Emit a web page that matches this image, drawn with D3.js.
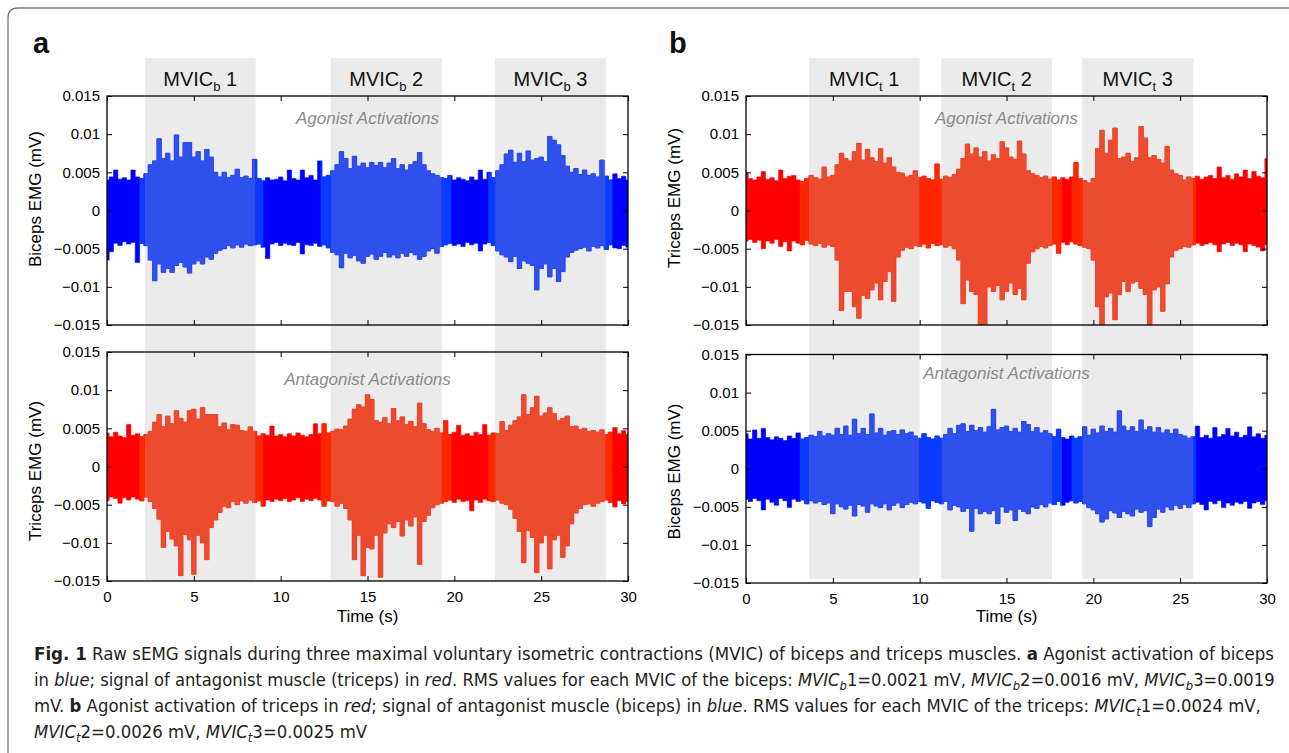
<!DOCTYPE html>
<html>
<head>
<meta charset="utf-8">
<script src="https://cdn.jsdelivr.net/npm/d3@7"></script>
<style>
  html, body { margin: 0; padding: 0; background: #fff; }
  svg { display: block; font-family: "Liberation Sans", Arial, Helvetica, sans-serif; }
</style>
</head>
<body>
<svg id="fig" width="1289" height="753"></svg>
<script>
// ---- data -------------------------------------------------------------
// envelope of each raw sEMG trace, read every 0.25 s, values in µV (1e-3 mV)
const sampleStep = 0.25;

const aBicepsUp = [4.0,4.4,5.3,4.1,4.3,4.0,5.3,4.4,4.2,4.8,6.0,6.5,9.4,6.8,7.5,6.5,9.9,7.0,8.9,8.9,7.0,7.7,6.5,8.0,7.0,5.0,4.4,5.0,4.3,4.6,5.4,4.3,4.5,4.2,6.7,4.2,3.9,4.3,4.0,4.1,4.4,3.9,5.3,4.2,4.0,5.3,4.3,4.6,4.0,6.5,4.4,4.6,5.2,6.0,7.7,6.8,5.5,7.1,5.8,6.2,5.6,6.3,5.9,6.3,5.6,6.2,6.8,5.5,6.0,5.3,6.0,6.4,7.6,6.0,5.2,4.8,4.6,4.3,4.2,4.6,4.0,4.3,4.1,3.9,4.4,4.0,5.3,4.1,5.0,4.3,5.2,6.0,7.4,7.9,6.3,7.5,6.4,7.8,6.6,6.8,7.0,6.4,9.7,9.2,8.6,7.2,5.8,5.0,5.5,4.7,5.3,4.6,4.8,4.4,6.6,4.5,4.0,4.8,4.2,4.5,4.0];
const aBicepsLo = [-6.5,-5.4,-4.3,-4.6,-4.1,-4.4,-4.2,-6.8,-4.3,-4.6,-6.5,-9.2,-7.0,-8.1,-7.6,-8.1,-7.2,-6.8,-7.4,-8.2,-7.0,-6.6,-7.0,-6.1,-6.4,-5.6,-5.2,-5.0,-4.6,-4.9,-4.5,-4.8,-4.4,-4.6,-4.5,-4.4,-4.8,-6.3,-4.4,-4.2,-4.6,-4.3,-4.5,-4.6,-4.2,-5.7,-4.5,-4.6,-4.3,-4.7,-4.5,-4.9,-5.5,-5.8,-7.5,-5.6,-6.2,-5.9,-6.6,-6.9,-6.0,-5.7,-6.4,-6.0,-5.5,-6.1,-5.8,-6.2,-5.6,-6.0,-5.5,-5.8,-6.4,-6.0,-5.3,-5.0,-5.6,-4.7,-4.5,-4.3,-4.6,-4.4,-4.7,-4.2,-4.5,-4.3,-5.3,-4.4,-4.2,-4.6,-5.3,-5.8,-6.1,-6.7,-6.0,-7.6,-6.6,-6.9,-7.2,-10.4,-7.6,-7.0,-8.7,-7.6,-9.3,-8.0,-6.1,-5.5,-5.2,-5.0,-4.8,-5.3,-4.7,-4.9,-4.6,-5.1,-4.5,-4.9,-5.0,-4.6,-4.8];

const aTricepsUp = [4.4,3.9,4.5,4.0,3.8,5.5,4.1,4.3,3.9,4.2,4.6,5.8,6.8,5.2,6.6,5.6,7.3,6.3,5.8,7.3,7.5,6.2,7.7,6.8,6.8,6.8,5.2,5.7,4.8,5.5,5.4,4.7,4.6,5.2,4.6,4.0,4.3,4.1,5.3,4.0,4.2,3.9,4.3,4.0,4.4,4.1,3.9,4.2,5.6,4.3,5.6,4.4,4.6,4.9,4.8,5.3,6.2,7.5,8.1,7.8,9.4,8.8,6.0,5.8,6.4,5.6,7.6,6.0,6.5,5.5,5.9,5.2,8.3,5.6,4.8,4.6,5.0,4.4,6.0,4.2,4.5,5.4,4.1,4.3,4.0,4.5,4.2,5.5,4.1,4.4,4.3,5.9,4.7,5.4,6.0,6.5,9.4,6.8,7.7,9.2,6.6,7.0,7.7,6.9,6.0,6.3,6.6,5.2,5.3,4.8,5.0,4.6,4.7,4.5,4.8,4.2,4.5,5.1,4.3,4.7,4.2];
const aTricepsLo = [-4.5,-4.0,-4.2,-4.8,-4.1,-4.4,-4.0,-4.3,-4.5,-4.0,-4.6,-5.5,-6.9,-10.6,-8.5,-9.5,-10.4,-14.3,-8.9,-9.6,-14.1,-9.0,-10.0,-12.2,-8.0,-7.0,-6.0,-5.2,-5.4,-4.6,-5.0,-4.5,-4.8,-4.4,-4.7,-4.5,-5.2,-4.4,-4.6,-4.3,-4.5,-4.2,-4.6,-4.4,-4.1,-4.6,-4.3,-4.5,-4.2,-4.4,-5.2,-4.5,-4.6,-5.2,-4.8,-5.5,-7.0,-12.2,-9.0,-14.3,-10.6,-10.8,-9.0,-14.5,-8.7,-7.5,-8.0,-7.2,-9.1,-7.0,-7.8,-6.6,-12.8,-7.2,-6.4,-5.4,-5.0,-4.8,-4.6,-4.4,-4.7,-4.3,-4.6,-4.5,-5.8,-4.4,-4.7,-4.3,-4.5,-4.6,-4.4,-4.8,-5.0,-5.6,-6.8,-8.5,-12.6,-8.4,-9.3,-13.9,-10.0,-9.0,-13.4,-9.6,-9.0,-11.9,-10.4,-7.5,-6.1,-5.5,-5.0,-4.9,-5.2,-4.8,-4.6,-4.4,-4.7,-5.3,-4.5,-4.9,-4.6];

const bTricepsUp = [4.9,4.2,4.0,4.4,5.1,4.1,4.3,3.9,5.3,4.2,4.5,4.6,4.0,3.8,4.2,4.6,4.3,4.1,5.7,4.4,4.6,6.0,7.5,6.8,6.5,7.7,8.8,6.6,8.0,6.9,6.4,8.1,6.2,6.9,5.7,5.0,4.9,4.4,4.6,5.2,4.3,4.5,4.2,4.0,6.1,4.1,4.5,4.3,4.7,5.4,6.8,8.7,7.4,8.2,7.0,7.7,6.5,7.3,6.8,9.0,8.2,7.0,6.7,9.1,7.4,5.2,4.8,4.6,4.3,4.5,4.1,4.4,4.0,4.3,4.1,4.4,6.3,4.2,3.9,3.6,4.2,8.1,10.5,7.5,9.2,10.8,6.8,7.0,7.5,6.4,6.9,11.0,9.5,6.9,7.2,6.7,6.2,8.4,5.3,4.8,4.6,4.0,4.4,4.2,4.5,4.1,4.4,4.6,4.2,5.7,4.3,4.6,4.1,4.8,4.4,5.3,4.2,5.1,4.5,4.3,6.8];
const bTricepsLo = [-4.0,-3.8,-4.2,-3.9,-5.0,-4.0,-4.3,-3.8,-4.7,-4.1,-5.3,-4.0,-4.3,-4.5,-3.9,-4.4,-4.6,-4.3,-4.8,-4.5,-4.7,-6.5,-13.1,-10.6,-10.6,-12.6,-14.1,-11.1,-11.5,-10.4,-9.5,-11.7,-9.3,-8.0,-11.9,-6.1,-5.2,-4.8,-5.0,-4.6,-4.7,-4.4,-4.9,-4.3,-4.6,-4.5,-4.8,-4.6,-5.0,-6.5,-12.2,-9.1,-10.6,-11.0,-15.0,-15.0,-10.0,-10.6,-9.8,-11.7,-10.6,-9.5,-11.0,-10.2,-11.7,-6.9,-5.4,-5.0,-4.7,-4.9,-4.6,-4.4,-5.6,-4.2,-4.5,-4.1,-4.4,-4.6,-4.8,-5.0,-6.5,-12.6,-15.0,-11.3,-10.8,-14.3,-11.0,-9.3,-10.6,-9.5,-9.3,-10.2,-11.0,-15.0,-10.4,-10.0,-13.2,-9.6,-6.1,-5.2,-5.0,-4.7,-4.8,-4.5,-4.3,-4.6,-4.4,-4.2,-4.5,-5.4,-4.4,-4.2,-4.6,-4.3,-4.5,-5.4,-4.4,-4.6,-4.8,-5.3,-4.5];

const bBicepsUp = [4.6,3.9,5.1,4.0,5.3,4.1,3.8,4.2,4.0,3.7,4.3,4.0,4.7,3.9,4.1,4.4,4.2,4.9,4.3,4.6,4.4,5.3,4.5,5.6,4.4,6.5,4.6,5.3,4.5,7.2,4.7,5.3,4.4,4.9,5.0,4.5,5.1,4.6,4.8,4.3,4.0,4.6,4.1,3.9,4.3,4.0,4.5,5.3,4.6,5.7,5.9,4.9,5.7,5.0,5.4,4.8,5.5,7.8,5.1,5.4,5.6,4.9,5.3,4.8,6.2,5.8,4.9,5.4,4.7,5.0,4.6,4.2,5.2,4.1,3.9,4.3,4.0,4.2,5.5,4.4,5.2,4.7,5.6,4.9,5.3,4.8,7.6,5.6,5.0,5.5,4.9,6.4,5.1,5.5,4.8,5.4,4.7,5.1,4.6,5.2,4.5,4.3,4.0,4.2,5.6,4.1,4.4,4.0,5.4,4.2,4.5,5.3,4.3,4.8,4.1,4.4,5.5,4.2,4.6,4.0,4.4];
const bBicepsLo = [-4.0,-4.3,-3.9,-4.2,-5.4,-4.0,-4.4,-4.8,-3.9,-4.2,-5.1,-4.0,-4.3,-4.1,-4.6,-4.2,-4.5,-4.3,-4.7,-4.5,-5.9,-4.6,-5.0,-5.3,-4.8,-6.2,-4.7,-4.9,-5.7,-4.6,-4.9,-5.1,-4.6,-5.4,-4.8,-4.5,-5.1,-4.7,-4.4,-4.6,-4.3,-4.5,-5.2,-4.2,-4.4,-4.6,-4.3,-5.4,-4.8,-5.0,-5.6,-5.2,-8.2,-5.2,-5.9,-5.6,-5.9,-5.5,-7.2,-5.0,-5.7,-5.4,-6.8,-5.3,-5.6,-5.9,-5.0,-5.2,-4.7,-5.0,-4.5,-4.7,-4.3,-4.8,-4.4,-4.2,-4.5,-4.3,-4.6,-5.1,-5.4,-5.9,-7.0,-6.6,-5.5,-5.8,-6.4,-5.6,-5.9,-6.2,-5.3,-5.7,-5.5,-7.6,-6.4,-5.3,-5.7,-5.0,-5.4,-4.8,-5.2,-4.7,-5.1,-4.6,-4.4,-4.7,-5.4,-4.3,-4.6,-4.2,-5.1,-4.5,-4.8,-4.4,-4.6,-4.3,-5.2,-4.5,-4.3,-4.7,-4.2];

// MVIC windows (s) and the short transition stretches next to them
const mvicA = [[2.18, 8.56], [12.88, 19.28], [22.35, 28.72]];
const mvicB = [[3.62, 10.0], [11.25, 17.62], [19.36, 25.75]];
const edgesA = [[1.87, 2.18], [8.56, 9.0], [12.3, 12.88], [19.28, 19.83], [21.95, 22.35], [28.72, 29.1]];
const edgesB = [[3.1, 3.62], [10.0, 11.25], [17.62, 18.2], [18.75, 19.36], [25.75, 25.9]];

const xTicks = [0, 5, 10, 15, 20, 25, 30];
const yTicks = [-0.015, -0.01, -0.005, 0, 0.005, 0.01, 0.015];
const yTickLabels = ["\u22120.015", "\u22120.01", "\u22120.005", "0", "0.005", "0.01", "0.015"];

// ---- layout -----------------------------------------------------------
const svg = d3.select("#fig");
const defs = svg.append("defs");

const BLUE = { base: "#0000ff", edge: "#0a3cff", act: "#2e50ec" };
const RED  = { base: "#ff0000", edge: "#ff2600", act: "#ec4b2e" };

const columns = [
  { key: "a", x0: 107, x1: 628, mvic: mvicA, edges: edgesA, sub: "b", bandBottom: 581, letterX: 33 },
  { key: "b", x0: 746, x1: 1267, mvic: mvicB, edges: edgesB, sub: "t", bandBottom: 579, letterX: 669 }
];

const panels = [
  { id: "aTop", col: 0, y0: 96, y1: 325, up: aBicepsUp, lo: aBicepsLo, color: BLUE,
    ylabel: "Biceps EMG (mV)", ylabelY: 199, note: "Agonist Activations", noteY: 124, xLabels: false },
  { id: "aBot", col: 0, y0: 352, y1: 581, up: aTricepsUp, lo: aTricepsLo, color: RED,
    ylabel: "Triceps EMG (mV)", ylabelY: 471, note: "Antagonist Activations", noteY: 385, xLabels: true, tickY: 602 },
  { id: "bTop", col: 1, y0: 96, y1: 325, up: bTricepsUp, lo: bTricepsLo, color: RED,
    ylabel: "Triceps EMG (mV)", ylabelY: 198, note: "Agonist Activations", noteY: 124, xLabels: false },
  { id: "bBot", col: 1, y0: 354.5, y1: 583, up: bBicepsUp, lo: bBicepsLo, color: BLUE,
    ylabel: "Biceps EMG (mV)", ylabelY: 471.5, note: "Antagonist Activations", noteY: 379, xLabels: true, tickY: 604 }
];

// border of the figure box
svg.append("path")
  .attr("d", "M8,753 V18 Q8,8 18,8 H1289")
  .attr("fill", "none")
  .attr("stroke", "#7a7a7a")
  .attr("stroke-width", 1.3);

// grey MVIC bands, letters and MVIC titles
columns.forEach(c => {
  c.x = d3.scaleLinear().domain([0, 30]).range([c.x0, c.x1]);

  svg.append("g").selectAll("rect")
    .data(c.mvic)
    .join("rect")
    .attr("x", d => c.x(d[0]))
    .attr("width", d => c.x(d[1]) - c.x(d[0]))
    .attr("y", 58)
    .attr("height", c.bandBottom - 58)
    .attr("fill", "#ebebeb");

  const lab = svg.append("g").selectAll("text")
    .data(c.mvic)
    .join("text")
    .attr("x", d => c.x((d[0] + d[1]) / 2))
    .attr("y", 86)
    .attr("text-anchor", "middle")
    .style("font-size", "20px")
    .attr("fill", "#111");
  lab.append("tspan").text("MVIC");
  lab.append("tspan").attr("dy", 5).style("font-size", "13px").text(c.sub);
  lab.append("tspan").attr("dy", -5).text((d, i) => " " + (i + 1));

  svg.append("text")
    .attr("x", c.letterX)
    .attr("y", 53)
    .style("font-size", "29px")
    .style("font-weight", "bold")
    .attr("fill", "#111")
    .text(c.key);
});

// signal panels
panels.forEach(p => {
  const c = columns[p.col];
  const x = c.x;
  const y = d3.scaleLinear().domain([-0.015, 0.015]).range([p.y1, p.y0]);

  const pts = p.up.map((u, i) => ({ t: i * sampleStep, hi: u / 1000, lo: p.lo[i] / 1000 }));
  const area = d3.area()
    .curve(d3.curveStep)
    .x(d => x(d.t))
    .y0(d => y(d.lo))
    .y1(d => y(d.hi));

  // clip regions: whole plot, transition stretches, MVIC windows
  const makeClip = (name, spans) => {
    const cp = defs.append("clipPath").attr("id", `${p.id}-${name}`);
    cp.selectAll("rect")
      .data(spans)
      .join("rect")
      .attr("x", d => x(d[0]))
      .attr("width", d => x(d[1]) - x(d[0]))
      .attr("y", p.y0)
      .attr("height", p.y1 - p.y0);
    return `url(#${p.id}-${name})`;
  };
  const layers = [
    { clip: makeClip("all", [[0, 30]]), color: p.color.base },
    { clip: makeClip("edge", c.edges), color: p.color.edge },
    { clip: makeClip("mvic", c.mvic), color: p.color.act }
  ];

  const g = svg.append("g");
  layers.forEach(l => {
    const lg = g.append("g").attr("clip-path", l.clip);
    lg.append("path")
      .datum(pts)
      .attr("d", area)
      .attr("fill", l.color)
      .attr("stroke", l.color)
      .attr("stroke-width", 0.6);
  });

  // activation note
  svg.append("text")
    .attr("x", (c.x0 + c.x1) / 2)
    .attr("y", p.noteY)
    .attr("text-anchor", "middle")
    .style("font-size", "17px")
    .style("font-style", "italic")
    .attr("fill", "#8a8a8a")
    .text(p.note);

  // axes, MATLAB box style with inward ticks on all sides
  const ax = svg.append("g");

  ax.append("g")
    .attr("transform", `translate(${c.x0},0)`)
    .call(d3.axisLeft(y).tickValues(yTicks).tickSizeInner(-5).tickSizeOuter(0).tickPadding(7)
      .tickFormat((d, i) => yTickLabels[i]));
  ax.append("g")
    .attr("transform", `translate(${c.x1},0)`)
    .call(d3.axisRight(y).tickValues(yTicks).tickSizeInner(-5).tickSizeOuter(0).tickFormat(""));
  ax.append("g")
    .attr("transform", `translate(0,${p.y0})`)
    .call(d3.axisTop(x).tickValues(xTicks).tickSizeInner(-5).tickSizeOuter(0).tickFormat(""));
  const bottom = ax.append("g")
    .attr("transform", `translate(0,${p.y1})`)
    .call(d3.axisBottom(x).tickValues(xTicks).tickSizeInner(-5).tickSizeOuter(0)
      .tickFormat(p.xLabels ? d3.format("d") : ""));

  ax.selectAll(".domain").remove();
  ax.selectAll("g").attr("font-size", null).attr("font-family", null);
  ax.selectAll(".tick line").attr("stroke", "#000").attr("stroke-width", 1);
  ax.selectAll("text").attr("fill", "#000").style("font-size", "15px");
  if (p.xLabels) {
    bottom.selectAll("text").attr("y", p.tickY - p.y1).attr("dy", 0);
  }

  svg.append("rect")
    .attr("x", c.x0)
    .attr("y", p.y0)
    .attr("width", c.x1 - c.x0)
    .attr("height", p.y1 - p.y0)
    .attr("fill", "none")
    .attr("stroke", "#000")
    .attr("stroke-width", 1.3);

  // y label
  svg.append("text")
    .attr("transform", `translate(${p.col === 0 ? 41 : 680},${p.ylabelY}) rotate(-90)`)
    .attr("text-anchor", "middle")
    .style("font-size", "17px")
    .attr("fill", "#000")
    .text(p.ylabel);

  if (p.xLabels) {
    svg.append("text")
      .attr("x", (c.x0 + c.x1) / 2)
      .attr("y", 622)
      .attr("text-anchor", "middle")
      .style("font-size", "17px")
      .attr("fill", "#000")
      .text("Time (s)");
  }
});

// ---- caption ----------------------------------------------------------
const captionLines = [
  { y: 660, width: 1241, parts: [
    ["Fig. 1", "b"], [" Raw sEMG signals during three maximal voluntary isometric contractions (MVIC) of biceps and triceps muscles. "],
    ["a", "b"], [" Agonist activation of biceps"] ] },
  { y: 686, width: 1241, parts: [
    ["in "], ["blue", "i"], ["; signal of antagonist muscle (triceps) in "], ["red", "i"],
    [". RMS values for each MVIC of the biceps: "],
    ["MVIC", "i"], ["b", "sub"], ["1=0.0021 mV, "],
    ["MVIC", "i"], ["b", "sub"], ["2=0.0016 mV, "],
    ["MVIC", "i"], ["b", "sub"], ["3=0.0019"] ] },
  { y: 712, width: 1228, parts: [
    ["mV. "], ["b", "b"], [" Agonist activation of triceps in "], ["red", "i"],
    ["; signal of antagonist muscle (biceps) in "], ["blue", "i"],
    [". RMS values for each MVIC of the triceps: "],
    ["MVIC", "i"], ["t", "sub"], ["1=0.0024 mV,"] ] },
  { y: 738, width: null, parts: [
    ["MVIC", "i"], ["t", "sub"], ["2=0.0026 mV, "],
    ["MVIC", "i"], ["t", "sub"], ["3=0.0025 mV"] ] }
];

let lastScale = 1;
captionLines.forEach(line => {
  const t = svg.append("text")
    .attr("x", 0)
    .attr("y", 0)
    .style("font-family", "'Liberation Sans Narrow', 'DejaVu Sans Condensed', 'Liberation Sans', sans-serif")
    .style("font-size", "17px")
    .attr("fill", "#231f20")
    .style("white-space", "pre");
  let shifted = false;
  line.parts.forEach(([txt, st]) => {
    const s = t.append("tspan").text(txt);
    if (st === "b") s.style("font-weight", "bold");
    if (st === "i") s.style("font-style", "italic");
    if (st === "sub") {
      s.style("font-style", "italic").style("font-size", "12px").attr("dy", 4);
      shifted = true;
    } else if (shifted) {
      s.attr("dy", -4);
      shifted = false;
    }
  });
  const w = t.node().getBBox().width;
  const k = line.width ? line.width / w : lastScale;
  lastScale = k;
  t.attr("transform", `translate(34,${line.y}) scale(${k},1)`);
});
</script>
</body>
</html>
